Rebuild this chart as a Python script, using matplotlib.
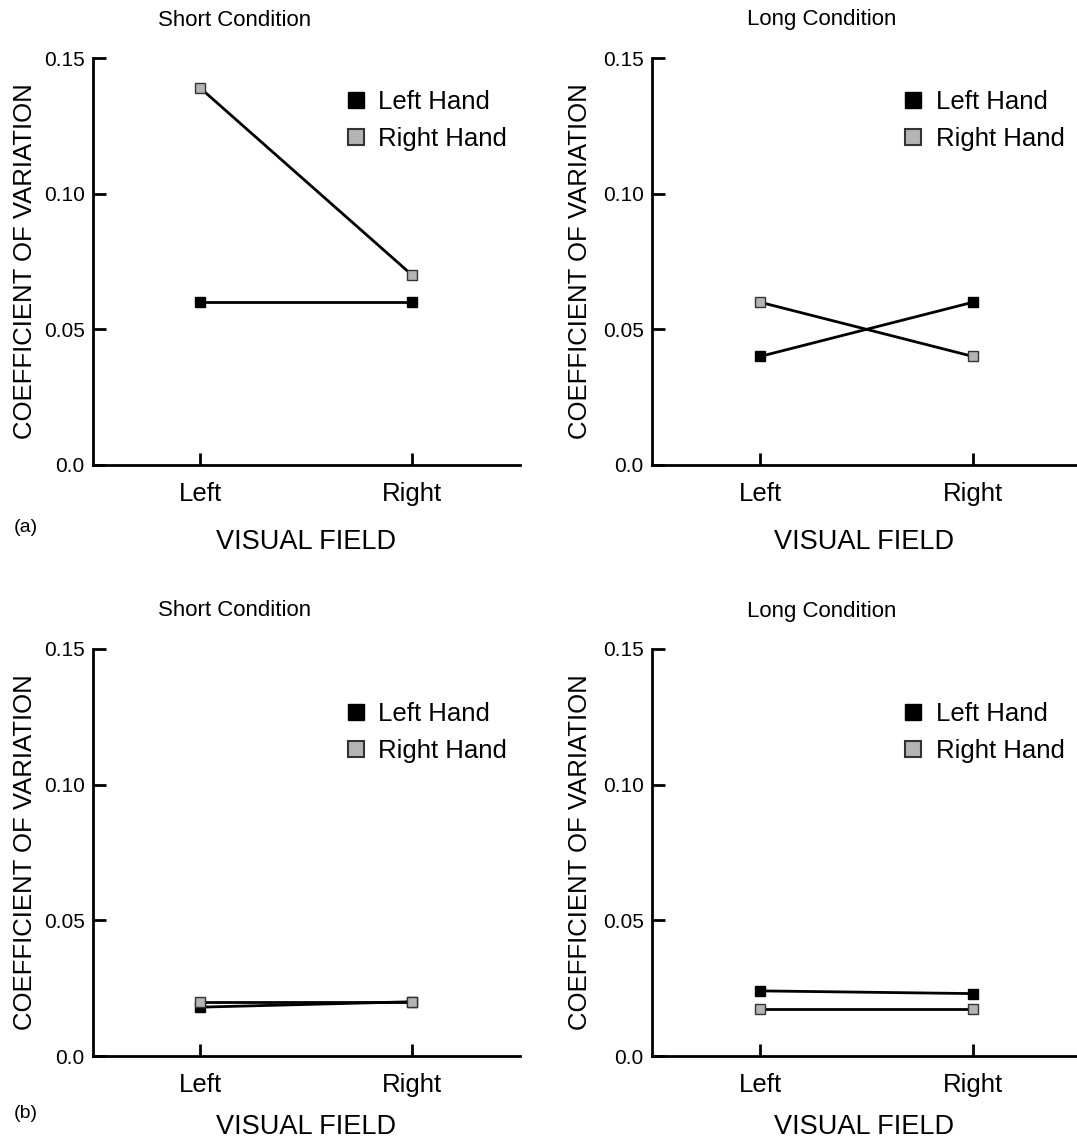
import matplotlib
matplotlib.use("Agg")
import matplotlib.pyplot as plt
from matplotlib.lines import Line2D

plt.rcParams['font.family'] = ['Liberation Sans', 'DejaVu Sans']

fields = ["Left", "Right"]

# (a)
a_short_left = [0.06, 0.06]
a_short_right = [0.139, 0.07]
a_long_left = [0.04, 0.06]
a_long_right = [0.06, 0.04]
# (b)
b_short_left = [0.018, 0.02]
b_short_right = [0.02, 0.02]
b_long_left = [0.024, 0.023]
b_long_right = [0.0175, 0.0175]

yticks = [0.0, 0.05, 0.10, 0.15]
ytick_labels = ["0.0", "0.05", "0.10", "0.15"]

W, H = 1077, 1141
fig = plt.figure(figsize=(W / 100, H / 100), dpi=100)
GRAY = "#b4b4b4"


def px_axes(x0, x1, ytop, ybot):
    return fig.add_axes([x0 / W, 1 - ybot / H, (x1 - x0) / W, (ybot - ytop) / H])


def panel(ax, left_hand, right_hand, xlim, leg_x, leg_y):
    x = [0, 1]
    ax.plot(x, left_hand, color="black", lw=2, marker="s", ms=7,
            mfc="black", mec="black", zorder=3)
    ax.plot(x, right_hand, color="black", lw=2, marker="s", ms=7,
            mfc=GRAY, mec="#333333", mew=1, zorder=3)
    ax.set_xlim(*xlim)
    ax.set_ylim(0, 0.15)
    ax.set_yticks(yticks)
    ax.set_yticklabels(ytick_labels)
    ax.set_xticks(x)
    ax.set_xticklabels(fields)
    for s in ["top", "right"]:
        ax.spines[s].set_visible(False)
    for s in ["left", "bottom"]:
        ax.spines[s].set_linewidth(2)
    ax.tick_params(axis="y", direction="in", length=9, width=2, pad=6, labelsize=15)
    ax.tick_params(axis="x", direction="in", length=9, width=2, pad=12, labelsize=18.5)
    handles = [
        Line2D([], [], ls="none", marker="s", ms=12, mfc="black", mec="black"),
        Line2D([], [], ls="none", marker="s", ms=12, mfc=GRAY, mec="#333333", mew=1.5),
    ]
    ax.legend(handles, ["Left Hand", "Right Hand"], loc="upper left",
              bbox_to_anchor=(leg_x, leg_y), frameon=False, fontsize=18.5,
              handlelength=1.0, handletextpad=0.36, borderpad=0, borderaxespad=0,
              labelspacing=0.49)


ax1 = px_axes(93, 520, 58, 465)
panel(ax1, a_short_left, a_short_right, (-0.505, 1.509), 0.585, 0.921)
ax2 = px_axes(652, 1077, 58, 465)
panel(ax2, a_long_left, a_long_right, (-0.507, 1.488), 0.585, 0.921)
ax3 = px_axes(93, 520, 649, 1056)
panel(ax3, b_short_left, b_short_right, (-0.505, 1.509), 0.585, 0.869)
ax4 = px_axes(652, 1077, 649, 1056)
panel(ax4, b_long_left, b_long_right, (-0.507, 1.488), 0.585, 0.869)

# titles, axis labels and panel letters
for cx, yl_x, title, tx in [(306, 25, "Short Condition", 235),
                            (864, 580, "Long Condition", 822)]:
    for ytitle, ymid, yxl in [(20, 261, 542), (611, 852, 1127)]:
        fig.text(tx / W, 1 - ytitle / H, title, ha="center", va="center", fontsize=16)
        fig.text(yl_x / W, 1 - ymid / H, "COEFFICIENT OF VARIATION",
                 rotation=90, ha="center", va="center", fontsize=18.5)
        fig.text(cx / W, 1 - yxl / H, "VISUAL FIELD", ha="center", va="center",
                 fontsize=19.5)

fig.text(14 / W, 1 - 528 / H, "(a)", ha="left", va="center", fontsize=14)
fig.text(14 / W, 1 - 1114 / H, "(b)", ha="left", va="center", fontsize=14)

fig.savefig("out.png", dpi=100)
